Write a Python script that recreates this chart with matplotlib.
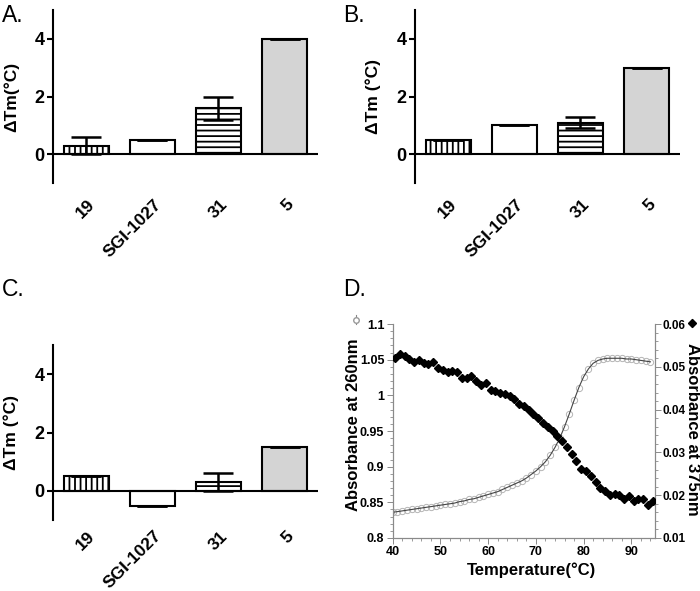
import numpy as np
import matplotlib
matplotlib.use("Agg")
import matplotlib.pyplot as plt
import matplotlib.transforms as mtransforms
from matplotlib.ticker import MultipleLocator

plt.rcParams['font.family'] = ['Liberation Sans', 'DejaVu Sans']
plt.rcParams['hatch.linewidth'] = 1.3

# --- bar panels (A, B, C) ---
COMPOUNDS = ["19", "SGI-1027", "31", "5"]
HATCHES = ["|||", "", "---", ""]
FILLS = ["white", "white", "white", "#d4d4d4"]

DTM_A = [0.3, 0.5, 1.6, 4.0]
ERR_A = [0.3, 0.0, 0.4, 0.0]
DTM_B = [0.5, 1.0, 1.1, 3.0]
ERR_B = [0.0, 0.0, 0.2, 0.0]
DTM_C = [0.5, -0.5, 0.3, 1.5]
ERR_C = [0.0, 0.0, 0.3, 0.0]

# --- melting curves (D) ---
TEMP_260 = [40, 41, 42, 43, 44, 45, 46, 47, 48, 49, 50, 51, 52, 53, 54, 55,
            56, 57, 58, 59, 60, 61, 62, 63, 64, 65, 66, 67, 68, 69, 70, 71,
            72, 73, 74, 75, 76, 77, 78, 79, 80, 81, 82, 83, 84, 85, 86, 87,
            88, 89, 90, 91, 92, 93, 94]
ABS_260 = [0.836, 0.837, 0.838, 0.839, 0.840, 0.841, 0.842, 0.843, 0.844,
           0.845, 0.846, 0.847, 0.848, 0.849, 0.851, 0.852, 0.854, 0.855,
           0.857, 0.859, 0.861, 0.863, 0.865, 0.868, 0.871, 0.874, 0.877,
           0.880, 0.884, 0.889, 0.894, 0.900, 0.907, 0.916, 0.927, 0.940,
           0.956, 0.974, 0.993, 1.011, 1.026, 1.037, 1.045, 1.049, 1.051,
           1.052, 1.052, 1.052, 1.052, 1.051, 1.051, 1.050, 1.049, 1.048,
           1.047]

TEMP_375 = [40.5, 41.5, 42.5, 43.5, 44.5, 45.5, 46.5, 47.5, 48.5, 49.5,
            50.5, 51.5, 52.5, 53.5, 54.5, 55.5, 56.5, 57.5, 58.5, 59.5,
            60.5, 61.5, 62.5, 63.5, 64.5, 65.5, 66.5, 67.5, 68.5, 69.5,
            70.5, 71.5, 72.5, 73.5, 74.5, 75.5, 76.5, 77.5, 78.5, 79.5,
            80.5, 81.5, 82.5, 83.5, 84.5, 85.5, 86.5, 87.5, 88.5, 89.5,
            90.5, 91.5, 92.5, 93.5, 94.5]
ABS_375 = [0.0521, 0.0530, 0.0525, 0.0518, 0.0511, 0.0515, 0.0510, 0.0506,
           0.0511, 0.0498, 0.0492, 0.0488, 0.0490, 0.0488, 0.0475, 0.0474,
           0.0478, 0.0467, 0.0457, 0.0463, 0.0446, 0.0443, 0.0440, 0.0437,
           0.0433, 0.0424, 0.0414, 0.0408, 0.0400, 0.0390, 0.0380, 0.0368,
           0.0360, 0.0350, 0.0338, 0.0326, 0.0313, 0.0296, 0.0280, 0.0262,
           0.0256, 0.0246, 0.0232, 0.0216, 0.0210, 0.0200, 0.0203, 0.0200,
           0.0190, 0.0197, 0.0186, 0.0192, 0.0192, 0.0178, 0.0186]


def bar_panel(ax, values, errors, ylabel, label_pad=10):
    x = np.arange(len(COMPOUNDS))
    for i in range(len(COMPOUNDS)):
        ax.bar(x[i], values[i], width=0.68, color=FILLS[i], edgecolor="black",
               linewidth=1.5, hatch=HATCHES[i], zorder=2)
    ax.errorbar(x, values, yerr=errors, fmt="none", ecolor="black",
                elinewidth=1.8, capsize=11, capthick=1.8, zorder=3)
    ax.axhline(0, color="black", lw=1.5, zorder=4)
    ax.set_xlim(-0.5, 3.5)
    ax.set_ylim(-1, 5)
    for s in ["top", "right", "bottom"]:
        ax.spines[s].set_visible(False)
    ax.spines["left"].set_linewidth(1.5)
    ax.set_yticks([0, 2, 4])
    ax.tick_params(axis="y", length=4, width=1.5, labelsize=13, pad=2)
    ax.set_xticks(x)
    ax.set_xticklabels(COMPOUNDS, rotation=45, ha="right", rotation_mode="anchor",
                       fontsize=12.5, fontweight="bold")
    ax.tick_params(axis="x", length=0, pad=label_pad)
    off = mtransforms.ScaledTranslation(1 / 72, 0, ax.figure.dpi_scale_trans)
    for lab in ax.get_xticklabels():
        lab.set_transform(lab.get_transform() + off)
    for lab in ax.get_yticklabels():
        lab.set_fontweight("bold")
    ax.set_ylabel(ylabel, fontsize=12.5, fontweight="bold")
    ax.yaxis.set_label_coords(-0.128, 0.5)


fig = plt.figure(figsize=(7, 5.91), dpi=100)

axA = fig.add_axes([0.0757, 0.690, 0.378, 0.293])
bar_panel(axA, DTM_A, ERR_A, "ΔTm(°C)")
axB = fig.add_axes([0.593, 0.690, 0.378, 0.293])
bar_panel(axB, DTM_B, ERR_B, "ΔTm (°C)")
axC = fig.add_axes([0.0757, 0.120, 0.378, 0.296])
bar_panel(axC, DTM_C, ERR_C, "ΔTm (°C)", label_pad=6)

# panel D
axD = fig.add_axes([0.561, 0.0897, 0.375, 0.362])
axD.plot(TEMP_260, ABS_260, "-", color="#444444", lw=0.8, zorder=3)
axD.plot(TEMP_260, ABS_260, "o", mfc="none", mec="#b5b5b5", ms=4.5, mew=0.7, zorder=2)
axD.set_xlim(40, 95)
axD.set_ylim(0.8, 1.1)
axD.set_yticks([0.8, 0.85, 0.9, 0.95, 1.0, 1.05, 1.1])
axD.set_yticklabels(["0.8", "0.85", "0.9", "0.95", "1", "1.05", "1.1"])
axD.set_xticks([40, 50, 60, 70, 80, 90])
axD.xaxis.set_minor_locator(MultipleLocator(2))
axD.yaxis.set_minor_locator(MultipleLocator(0.01))
axD.set_xlabel("Temperature(°C)", fontsize=12, fontweight="bold")
axD.xaxis.set_label_coords(0.53, -0.112)
axD.set_ylabel("Absorbance at 260nm", fontsize=12, fontweight="bold")
axD.yaxis.set_label_coords(-0.12, 0.53)

axR = axD.twinx()
axR.plot(TEMP_375, ABS_375, "D", color="black", ms=4, zorder=4)
axR.set_ylim(0.01, 0.06)
axR.set_yticks([0.01, 0.02, 0.03, 0.04, 0.05, 0.06])
axR.set_yticklabels(["0.01", "0.02", "0.03", "0.04", "0.05", "0.06"])
axR.yaxis.set_minor_locator(MultipleLocator(0.002))
axR.set_ylabel("Absorbance at 375nm", fontsize=12, fontweight="bold", rotation=-90)
axR.yaxis.set_label_coords(1.17, 0.51)

for a in (axD, axR):
    a.spines["top"].set_visible(False)
    for s in ["left", "right", "bottom"]:
        a.spines[s].set_color("#8a8a8a")
        a.spines[s].set_linewidth(0.8)
    a.tick_params(which="major", length=4, width=0.7, color="#8a8a8a", labelsize=9, pad=2)
    a.tick_params(which="minor", length=2, width=0.6, color="#8a8a8a")
    for lab in a.get_xticklabels() + a.get_yticklabels():
        lab.set_fontweight("bold")
axR.tick_params(axis="y", which="major", labelsize=8.5, pad=1.5)

# legend keys beside the axis titles
axD.plot([-0.14, -0.14], [1.0, 1.04], transform=axD.transAxes, color="#888888",
         lw=0.8, clip_on=False)
axD.plot([-0.14], [1.02], transform=axD.transAxes, marker="o", mfc="white",
         mec="#999999", ms=4, clip_on=False)
axR.plot([1.142, 1.142], [0.985, 1.025], transform=axR.transAxes, color="black",
         lw=0.8, clip_on=False)
axR.plot([1.142], [1.005], transform=axR.transAxes, marker="D", color="black",
         ms=4, clip_on=False)

for label, xf, yf in [("A.", 0.003, 0.993), ("B.", 0.49, 0.993), ("C.", 0.003, 0.53), ("D.", 0.49, 0.53)]:
    fig.text(xf, yf, label, fontsize=16.5, va="top", ha="left")

fig.savefig("out.png", dpi=100)
